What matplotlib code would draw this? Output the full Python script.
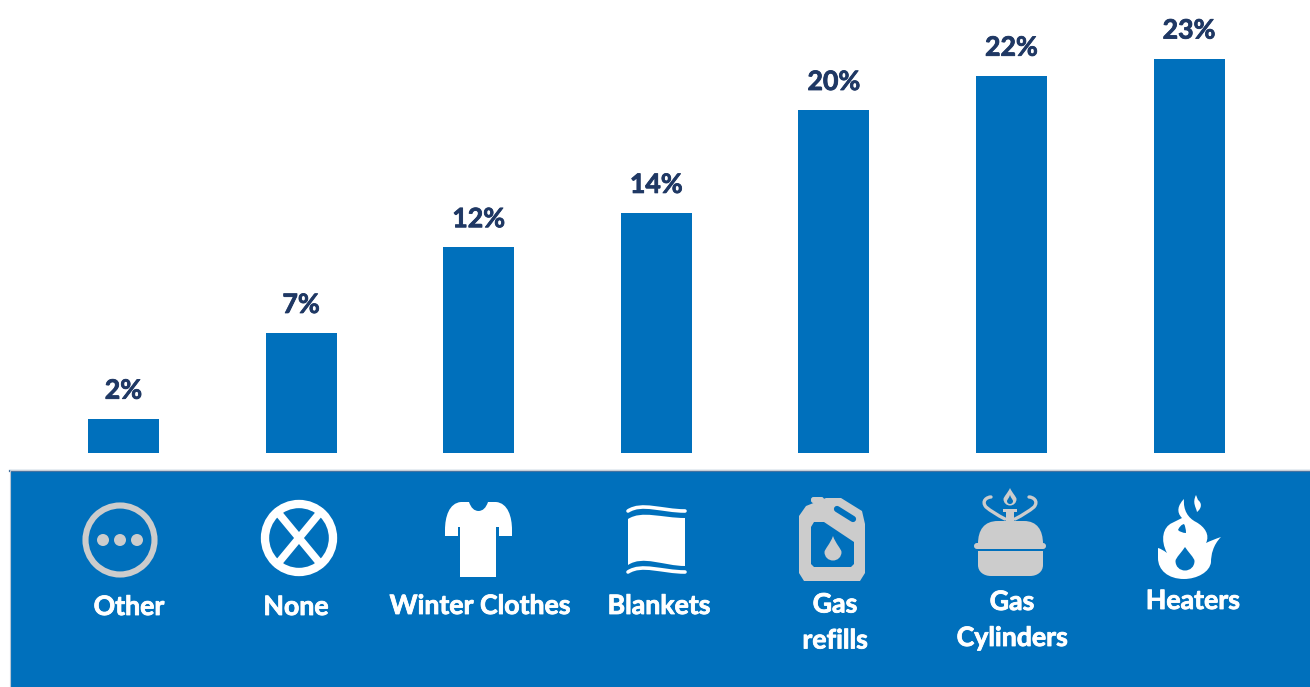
import numpy as np
import matplotlib
matplotlib.use("Agg")
import matplotlib.pyplot as plt
import matplotlib.patheffects as pe
from matplotlib.path import Path
from matplotlib.patches import PathPatch, Circle, Rectangle, FancyBboxPatch, Polygon

plt.rcParams['font.family'] = ['Lato', 'DejaVu Sans']

categories = ["Other", "None", "Winter Clothes", "Blankets", "Gas\nrefills", "Gas\nCylinders", "Heaters"]
values = [2, 7, 12, 14, 20, 22, 23]

BLUE = "#0070BC"
NAVY = "#1F3864"
GREY = "#CCCCCC"
WHITE = "#FFFFFF"
W, H = 1310, 687

fig = plt.figure(figsize=(W / 100, H / 100), dpi=100, facecolor="white")

# Bar panel: the zero line sits just above the blue band
base = 453
ax = fig.add_axes([0, 1 - base / H, 1, base / H])
step = 177.6
ax.set_xlim(-123.4 / step, (W - 123.4) / step)
ax.set_ylim(0, base / 17.15)
ax.axis("off")
x = np.arange(len(values))
bars = ax.bar(x, values, width=71 / step, color=BLUE)
for rect, v in zip(bars, values):
    t = ax.annotate(f"{v}%", (rect.get_x() + rect.get_width() / 2, v),
                    xytext=(0, 28), textcoords="offset pixels",
                    ha="center", va="center", fontsize=19.2, fontweight="bold", color=NAVY)
    t.set_path_effects([pe.withStroke(linewidth=0.6, foreground=NAVY)])

# Overlay in pixel units for the band, its icons and captions
ov = fig.add_axes([0, 0, 1, 1])
ov.set_xlim(0, W)
ov.set_ylim(H, 0)
ov.axis("off")
ov.patch.set_alpha(0)

ov.add_patch(Rectangle((10, 470), W - 10, H - 470, color=BLUE, lw=0, zorder=1))
ov.plot([10, W], [471, 471], color="#3F6F9F", lw=1.6, zorder=2)
ov.plot([10, W], [469.5, 469.5], color="#C8CED6", lw=0.8, zorder=2)
ov.plot([9.5, 9.5], [470, H], color="#B8C6D4", lw=0.8, zorder=2)

SEG = {1: [Path.LINETO], 2: [Path.CURVE3] * 2, 3: [Path.CURVE4] * 3}


def bezier(start, *segs, fc=WHITE, z=3):
    """Closed path from line (1 point), quadratic (2) and cubic (3) segments."""
    verts, codes = [start], [Path.MOVETO]
    for s in segs:
        verts.extend(s)
        codes.extend(SEG[len(s)])
    verts.append(start)
    codes.append(Path.CLOSEPOLY)
    ov.add_patch(PathPatch(Path(verts, codes), fc=fc, ec="none", lw=0, zorder=z))


def stroke(start, *segs, color=WHITE, lw=2.4, z=3):
    """Open stroked curve built the same way as bezier()."""
    verts, codes = [start], [Path.MOVETO]
    for s in segs:
        verts.extend(s)
        codes.extend(SEG[len(s)])
    ov.add_patch(PathPatch(Path(verts, codes), fc="none", ec=color, lw=lw, zorder=z,
                           capstyle="round"))


def drop(cx, cy, r, tip, fc, z=5):
    bezier((cx, tip),
           [(cx + r * 0.3, cy - r * 1.0), (cx + r, cy - r * 0.3), (cx + r, cy)],
           [(cx + r, cy + r * 0.6), (cx + r * 0.55, cy + r), (cx, cy + r)],
           [(cx - r * 0.55, cy + r), (cx - r, cy + r * 0.6), (cx - r, cy)],
           [(cx - r, cy - r * 0.3), (cx - r * 0.3, cy - r * 1.0), (cx, tip)],
           fc=fc, z=z)


# Other: ring with three dots
ov.add_patch(Circle((120, 540), 34.5, fc="none", ec=GREY, lw=4.4, zorder=3))
for dx in (103, 120, 137):
    ov.add_patch(Circle((dx, 540), 6, fc=GREY, ec="none", zorder=3))

# None: crossed circle
ov.add_patch(Circle((299, 538), 34, fc="none", ec=WHITE, lw=6, zorder=3))
ov.plot([275, 323], [509, 567], color=WHITE, lw=5.5, zorder=3, solid_capstyle="butt")
ov.plot([275, 323], [567, 509], color=WHITE, lw=5.5, zorder=3, solid_capstyle="butt")

# Winter clothes: T-shirt
bezier((469, 502),
       [(472, 511), (478.5, 511)],
       [(485, 511), (488, 502)],
       [(496, 502)],
       [(508, 503), (512, 517), (512, 530)],
       [(512, 536)], [(499, 536)], [(499, 527)], [(496, 527)], [(496, 577)],
       [(460, 577)], [(460, 527)], [(458, 527)], [(458, 536)], [(445, 536)], [(445, 530)],
       [(445, 517), (449, 503), (461, 502)])

# Blankets: sheet between two wavy lines
bezier((628, 519),
       [(642, 510), (662, 518), (685, 518)],
       [(685, 566)],
       [(664, 566), (643, 555), (628, 565)],
       fc=WHITE)
stroke((628, 511), [(642, 502), (662, 511), (685, 511)], lw=2.6)
stroke((628, 572), [(642, 563), (662, 572), (685, 572)], lw=2.6)

# Gas refills: jerrycan with a droplet
ov.add_patch(FancyBboxPatch((811, 497), 13, 6, boxstyle="round,pad=0,rounding_size=2.5",
                            fc=GREY, ec="none", zorder=3))
ov.add_patch(Polygon([(799, 516), (806, 506), (826, 498), (841, 498), (862, 511), (865, 524),
                      (865, 573), (860, 581), (804, 581), (799, 573)],
                     closed=True, fc=GREY, ec="none", zorder=3))
ov.add_patch(Polygon([(811, 527), (814, 522), (824, 522), (854, 542), (854, 564), (851, 567),
                      (814, 567), (811, 564)],
                     closed=True, fc=BLUE, ec="none", zorder=4))
ov.plot([837, 853], [509, 519], color=BLUE, lw=4.5, solid_capstyle="round", zorder=4)
drop(833, 552, 8.5, 536, GREY)

# Gas cylinders: camping stove with a burner flame
bezier((978, 544),
       [(978, 530), (984, 521), (998, 521)],
       [(1024, 521)],
       [(1037, 521), (1043, 530), (1043, 544)], fc=GREY)
ov.add_patch(FancyBboxPatch((974, 543), 72, 6, boxstyle="round,pad=0,rounding_size=3",
                            fc=GREY, ec="none", zorder=3))
bezier((978, 551), [(1043, 551)], [(1043, 565)],
       [(1043, 572), (1037, 576), (1030, 576)],
       [(991, 576)],
       [(984, 576), (978, 572), (978, 565)], fc=GREY)
ov.add_patch(Rectangle((1006, 511), 8, 10, fc=GREY, ec="none", zorder=3))
ov.add_patch(Rectangle((1003, 509), 14, 3, fc=GREY, ec="none", zorder=3))
stroke((1005, 519), [(993, 513), (986, 507)], [(981, 501), (987, 497), (991, 497)],
       color=GREY, lw=2.4)
stroke((1015, 519), [(1027, 513), (1034, 507)], [(1039, 501), (1033, 497), (1029, 497)],
       color=GREY, lw=2.4)
drop(1010, 499, 6.5, 488, GREY)
drop(1010, 501, 3, 495, BLUE)

# Heaters: flame
bezier((1184, 499),
       [(1183, 510), (1188, 518), (1196, 522)],
       [(1205, 527), (1210, 535), (1206, 543)],
       [(1212, 540), (1221, 537)],
       [(1213, 545), (1211, 555), (1211, 562)],
       [(1210, 572), (1197, 579), (1184, 579)],
       [(1168, 579), (1158, 570), (1158, 558)],
       [(1158, 548)],
       [(1162, 549), (1167, 553)],
       [(1160, 540), (1163, 527), (1172, 523)],
       [(1182, 518)],
       [(1176, 512), (1178, 505), (1184, 499)])
drop(1185, 561, 9.5, 547, BLUE)
bezier((1196, 495),
       [(1192, 503), (1196, 507), (1197, 512)],
       [(1202, 508), (1202, 503), (1198, 500)],
       [(1196, 495)])
bezier((1178, 530),
       [(1181, 533), (1186, 533)],
       [(1186, 527), (1184, 524)],
       [(1180, 525), (1178, 530)], fc=BLUE, z=4)

# Captions under each icon
caption_pos = [(129, 607), (296, 607), (480, 606), (659, 606),
               (835, 622.5), (1012, 620), (1193, 601)]
for label, (cx, cy) in zip(categories, caption_pos):
    t = ov.text(cx, cy, label, ha="center", va="center", color=WHITE, fontsize=19.2,
                fontweight="bold", linespacing=1.6, zorder=6)
    t.set_path_effects([pe.withStroke(linewidth=0.6, foreground=WHITE)])

fig.savefig("out.png", dpi=100)
